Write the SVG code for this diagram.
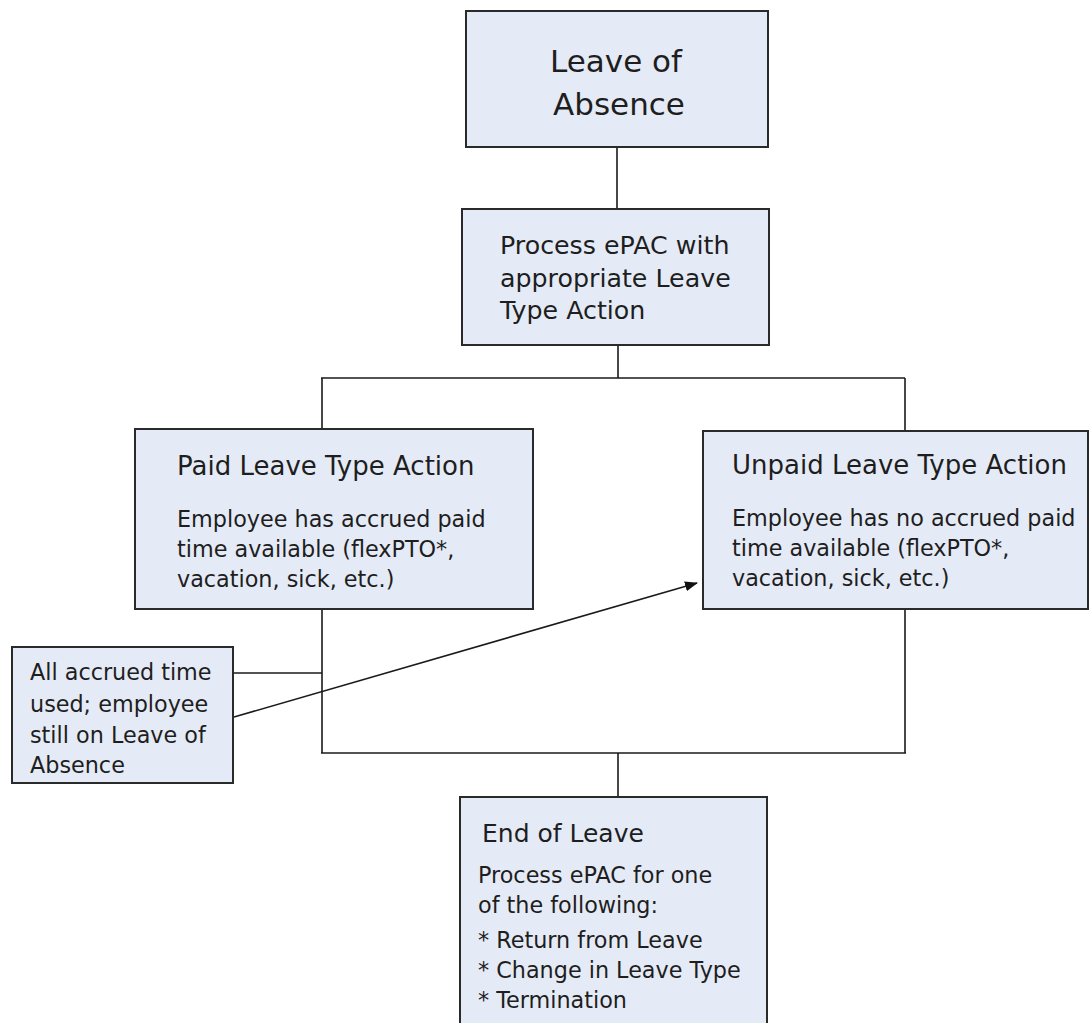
<svg xmlns="http://www.w3.org/2000/svg" width="1090" height="1023" viewBox="0 0 1090 1023">
<style>
.box{fill:#e5ebf6;stroke:#2a2a2a;stroke-width:2}
.t{font-family:"DejaVu Sans","Open Sans",sans-serif;fill:#1e1e1e}
.h{font-size:26px}
.b{font-size:22.3px}
.c{stroke:#1a1a1a;stroke-width:1.6;fill:none}
</style>
<defs>
<marker id="ah" markerWidth="13" markerHeight="10" refX="12" refY="5" orient="auto" markerUnits="userSpaceOnUse">
<path d="M0,0 L13,5 L0,10 z" fill="#111"/>
</marker>
</defs>
<rect width="1090" height="1023" fill="#fff"/>
<g id="connectors">
<line class="c" x1="617" y1="147" x2="617" y2="209"/>
<line class="c" x1="618" y1="345" x2="618" y2="378"/>
<line class="c" x1="321" y1="378" x2="905" y2="378"/>
<line class="c" x1="322" y1="378" x2="322" y2="429"/>
<line class="c" x1="905" y1="378" x2="905" y2="431"/>
<line class="c" x1="322" y1="609" x2="322" y2="753"/>
<line class="c" x1="905" y1="609" x2="905" y2="753"/>
<line class="c" x1="321" y1="753" x2="906" y2="753"/>
<line class="c" x1="618" y1="753" x2="618" y2="797"/>
<line class="c" x1="233" y1="673" x2="322" y2="673"/>
<line class="c" x1="234" y1="717" x2="697" y2="583" marker-end="url(#ah)"/>
</g>
<g id="leave-of-absence">
<rect class="box" x="466" y="11" width="302" height="136"/>
<text class="t" font-size="31" text-anchor="middle" x="616" y="72">Leave of</text>
<text class="t" font-size="31" text-anchor="middle" x="619" y="115">Absence</text>
</g>
<g id="process-epac">
<rect class="box" x="462" y="209" width="307" height="136"/>
<text class="t" font-size="25.3" x="500" y="254">Process ePAC with</text>
<text class="t" font-size="25.3" x="500" y="287">appropriate Leave</text>
<text class="t" font-size="25.3" x="500" y="319">Type Action</text>
</g>
<g id="paid-leave">
<rect class="box" x="135" y="429" width="398" height="180"/>
<text class="t h" x="177" y="475">Paid Leave Type Action</text>
<text class="t b" x="177" y="527">Employee has accrued paid</text>
<text class="t b" x="177" y="557">time available (flexPTO*,</text>
<text class="t b" x="177" y="587">vacation, sick, etc.)</text>
</g>
<g id="unpaid-leave">
<rect class="box" x="703" y="431" width="385" height="178"/>
<text class="t h" x="732" y="474">Unpaid Leave Type Action</text>
<text class="t b" x="732" y="526">Employee has no accrued paid</text>
<text class="t b" x="732" y="556">time available (flexPTO*,</text>
<text class="t b" x="732" y="586">vacation, sick, etc.)</text>
</g>
<g id="all-accrued">
<rect class="box" x="12" y="647" width="221" height="136"/>
<text class="t b" x="30" y="680">All accrued time</text>
<text class="t b" x="30" y="712">used; employee</text>
<text class="t b" x="30" y="743">still on Leave of</text>
<text class="t b" x="30" y="773">Absence</text>
</g>
<g id="end-of-leave">
<rect class="box" x="460" y="797" width="307" height="240"/>
<text class="t" font-size="25" x="482" y="842">End of Leave</text>
<text class="t b" x="478" y="883">Process ePAC for one</text>
<text class="t b" x="478" y="913">of the following:</text>
<text class="t b" x="478" y="948">* Return from Leave</text>
<text class="t b" x="478" y="978">* Change in Leave Type</text>
<text class="t b" x="478" y="1008">* Termination</text>
</g>
</svg>
